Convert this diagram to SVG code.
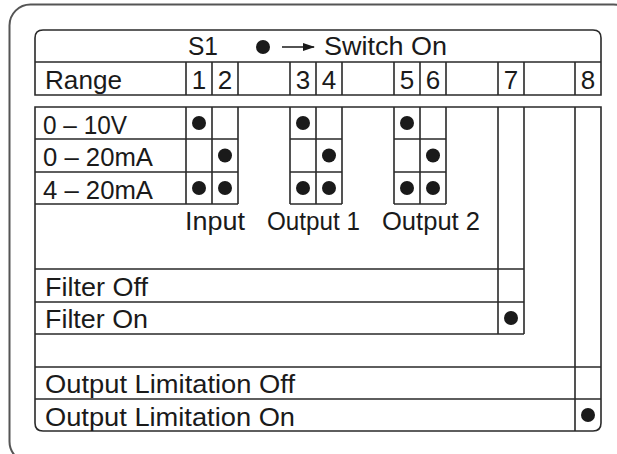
<svg xmlns="http://www.w3.org/2000/svg" width="617" height="454" viewBox="0 0 617 454">
  <style>
    .ln { fill: none; stroke: #2a2a2a; stroke-width: 1.6; }
    .frame { fill: none; stroke: #555; stroke-width: 2; }
    .t { font-family: "Liberation Sans", Arial, Helvetica, sans-serif; font-size: 26px; fill: #1a1a1a; }
    .c { text-anchor: middle; }
    .dot { fill: #1a1a1a; }
  </style>
  <defs>
    <marker id="ah" markerWidth="12" markerHeight="8" refX="11" refY="4" orient="auto" markerUnits="userSpaceOnUse">
      <path d="M0,0 L12,4 L0,8 Z" fill="#1a1a1a"/>
    </marker>
  </defs>
  <rect width="617" height="454" fill="#fff"/>
  <rect class="frame" x="9.5" y="4.5" width="625" height="458" rx="21" ry="21"/>

  <g id="header">
    <path class="ln" d="M35,95 V38 Q35,30 43,30 H593 Q601,30 601,38 V95 Z"/>
    <path class="ln" d="M35,62 H601 M186,62 V95 M212,62 V95 M238,62 V95 M290,62 V95 M316,62 V95 M342,62 V95 M394,62 V95 M420,62 V95 M446,62 V95 M498,62 V95 M524,62 V95 M575,62 V95"/>
    <text class="t" x="188" y="55" textLength="30" lengthAdjust="spacingAndGlyphs">S1</text>
    <circle class="dot" cx="263" cy="47" r="7"/>
    <line x1="282" y1="47" x2="314" y2="47" stroke="#1a1a1a" stroke-width="1.5" marker-end="url(#ah)"/>
    <text class="t" x="324" y="55" textLength="123" lengthAdjust="spacingAndGlyphs">Switch On</text>
    <text class="t" x="45" y="88.5" textLength="77" lengthAdjust="spacingAndGlyphs">Range</text>
    <text class="t c" x="199" y="88.5">1</text>
    <text class="t c" x="225" y="88.5">2</text>
    <text class="t c" x="303" y="88.5">3</text>
    <text class="t c" x="329" y="88.5">4</text>
    <text class="t c" x="407" y="88.5">5</text>
    <text class="t c" x="433" y="88.5">6</text>
    <text class="t c" x="511" y="88.5">7</text>
    <text class="t c" x="588" y="88.5">8</text>
  </g>

  <g id="table">
    <path class="ln" d="M35,107 H601 V423 Q601,431 593,431 H43 Q35,431 35,423 Z"/>
    <path class="ln" d="M575,107 V431 M35,367 H601 M35,399 H601"/>
    <path class="ln" d="M498,107 V334 M524,107 V334 M35,269 H524 M35,302 H524 M35,334 H524"/>
    <path class="ln" d="M186,107 V204 M212,107 V204 M238,107 V204 M35,139 H238 M35,172 H238 M35,204 H238"/>
    <path class="ln" d="M290,107 V204 M316,107 V204 M342,107 V204 M290,139 H342 M290,172 H342 M290,204 H342"/>
    <path class="ln" d="M394,107 V204 M420,107 V204 M446,107 V204 M394,139 H446 M394,172 H446 M394,204 H446"/>
  </g>

  <g id="ranges">
    <text class="t" x="43" y="133.5" textLength="84" lengthAdjust="spacingAndGlyphs">0 – 10V</text>
    <text class="t" x="43" y="166" textLength="110" lengthAdjust="spacingAndGlyphs">0 – 20mA</text>
    <text class="t" x="43" y="198.5" textLength="110" lengthAdjust="spacingAndGlyphs">4 – 20mA</text>
    <text class="t" x="185" y="229.5" textLength="60" lengthAdjust="spacingAndGlyphs">Input</text>
    <text class="t" x="267" y="229.5" textLength="93" lengthAdjust="spacingAndGlyphs">Output 1</text>
    <text class="t" x="382" y="229.5" textLength="98" lengthAdjust="spacingAndGlyphs">Output 2</text>
  </g>

  <g id="dots">
    <circle class="dot" cx="199" cy="123" r="7"/>
    <circle class="dot" cx="303" cy="123" r="7"/>
    <circle class="dot" cx="407" cy="123" r="7"/>
    <circle class="dot" cx="225" cy="155.5" r="7"/>
    <circle class="dot" cx="329" cy="155.5" r="7"/>
    <circle class="dot" cx="433" cy="155.5" r="7"/>
    <circle class="dot" cx="199" cy="188" r="7"/>
    <circle class="dot" cx="225" cy="188" r="7"/>
    <circle class="dot" cx="303" cy="188" r="7"/>
    <circle class="dot" cx="329" cy="188" r="7"/>
    <circle class="dot" cx="407" cy="188" r="7"/>
    <circle class="dot" cx="433" cy="188" r="7"/>
    <circle class="dot" cx="511" cy="318" r="7"/>
    <circle class="dot" cx="588" cy="415" r="7"/>
  </g>

  <g id="filter">
    <text class="t" x="45" y="295.5" textLength="103" lengthAdjust="spacingAndGlyphs">Filter Off</text>
    <text class="t" x="45" y="328" textLength="103" lengthAdjust="spacingAndGlyphs">Filter On</text>
  </g>

  <g id="limitation">
    <text class="t" x="45" y="393" textLength="250" lengthAdjust="spacingAndGlyphs">Output Limitation Off</text>
    <text class="t" x="45" y="425.5" textLength="250" lengthAdjust="spacingAndGlyphs">Output Limitation On</text>
  </g>
</svg>
